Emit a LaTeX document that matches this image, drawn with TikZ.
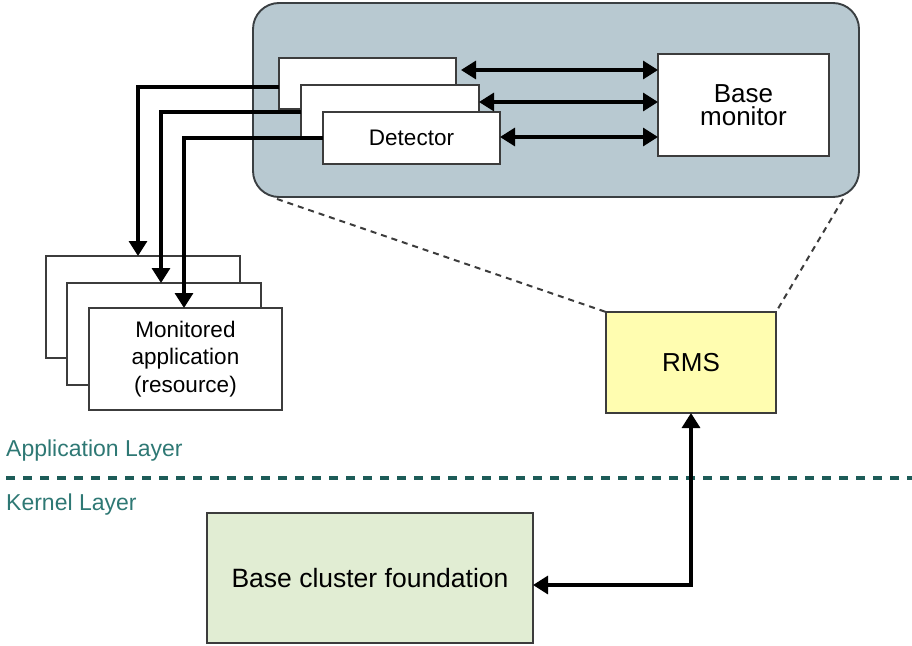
\documentclass[tikz,border=0pt]{standalone}
\usepackage{fontspec}
\setmainfont{Liberation Sans}
\usetikzlibrary{arrows.meta}
\definecolor{grpfill}{HTML}{B8C9D1}
\definecolor{grpline}{HTML}{3A3F42}
\definecolor{boxline}{HTML}{3C3C3C}
\definecolor{rmsfill}{HTML}{FFFDB0}
\definecolor{bcfill}{HTML}{E1EDD3}
\definecolor{layertext}{HTML}{2E7874}
\definecolor{layerline}{HTML}{1D5C58}
\tikzset{
  box/.style={draw=boxline, line width=1.6pt, fill=white, anchor=north west,
    inner sep=0pt, outer sep=0pt, align=center},
  grpbox/.style={draw=grpline, line width=1.9pt, fill=grpfill, anchor=north west,
    inner sep=0pt, outer sep=0pt, rounded corners=26pt},
  arr/.style={line width=3.2pt, -{Triangle[length=15pt,width=18pt]}},
  dbl/.style={line width=3.2pt, {Triangle[length=15pt,width=18pt]}-{Triangle[length=15pt,width=18pt]}},
  gdash/.style={draw=boxline, line width=2pt, dash pattern=on 6pt off 5pt},
  layerlbl/.style={text=layertext, anchor=base west, inner sep=0pt,
    font=\fontsize{23}{27}\selectfont},
  dfont/.style={font=\fontsize{22.5}{27}\selectfont},
  bfont/.style={font=\fontsize{26}{23.5}\selectfont},
}
\begin{document}
\begin{tikzpicture}[x=1pt,y=-1pt]
\useasboundingbox (0,0) rectangle (912,645);
% group
\node[grpbox, minimum width=606pt, minimum height=194pt] (grp) at (253,3) {};
% detectors
\node[box, minimum width=177pt, minimum height=51pt] (d1) at (279,58) {};
\node[box, minimum width=178pt, minimum height=52pt] (d2) at (301,85) {};
\node[box, minimum width=177pt, minimum height=52pt, dfont] (d3) at (323,112) {Detector};
% base monitor
\node[box, minimum width=171pt, minimum height=102pt, bfont] (bm) at (658,54) {Base\\monitor};
% detector <-> base monitor
\draw[dbl, shorten <=5pt] (d1.east |- 0,70) -- (bm.west |- 0,70);
\draw[dbl] (d2.east |- 0,102) -- (bm.west |- 0,102);
\draw[dbl] (d3.east |- 0,137) -- (bm.west |- 0,137);
% monitored applications
\node[box, minimum width=194pt, minimum height=102pt] (a1) at (46,256) {};
\node[box, minimum width=194pt, minimum height=102pt] (a2) at (67,283) {};
\node[box, minimum width=193pt, minimum height=102pt, font=\fontsize{22.5}{27.5}\selectfont] (a3) at (89,308) {Monitored\\application\\(resource)};
% detector -> application
\draw[arr] (d1.west |- 0,87) -| (a1.north -| 138,0);
\draw[arr] (d2.west |- 0,112) -| (a2.north -| 161,0);
\draw[arr] (d3.west |- 0,138) -| (a3.north -| 184,0);
% RMS
\node[box, fill=rmsfill, minimum width=170pt, minimum height=101pt, font=\fontsize{26}{30}\selectfont] (rms) at (606,312) {RMS};
% dashed zoom lines
\coordinate (gl) at (277,199);
\coordinate (gr) at (843,199);
\draw[gdash] (gl) -- (rms.north west);
\draw[gdash] (gr) -- (rms.north east);
% layer separator
\coordinate (L0) at (6,478);
\coordinate (L1) at (912,478);
\draw[layerline, line width=4pt, dash pattern=on 9pt off 8pt] (L0) -- (L1);
\node[layerlbl] (al) at (6,456.5) {Application Layer};
\node[layerlbl] (kl) at (6,510) {Kernel Layer};
% base cluster foundation
\node[box, fill=bcfill, minimum width=326pt, minimum height=130pt, font=\fontsize{26.5}{30}\selectfont] (bc) at (207,513) {Base cluster foundation};
\draw[dbl] (bc.east |- 0,585) -| (rms.south);
\end{tikzpicture}
\end{document}
